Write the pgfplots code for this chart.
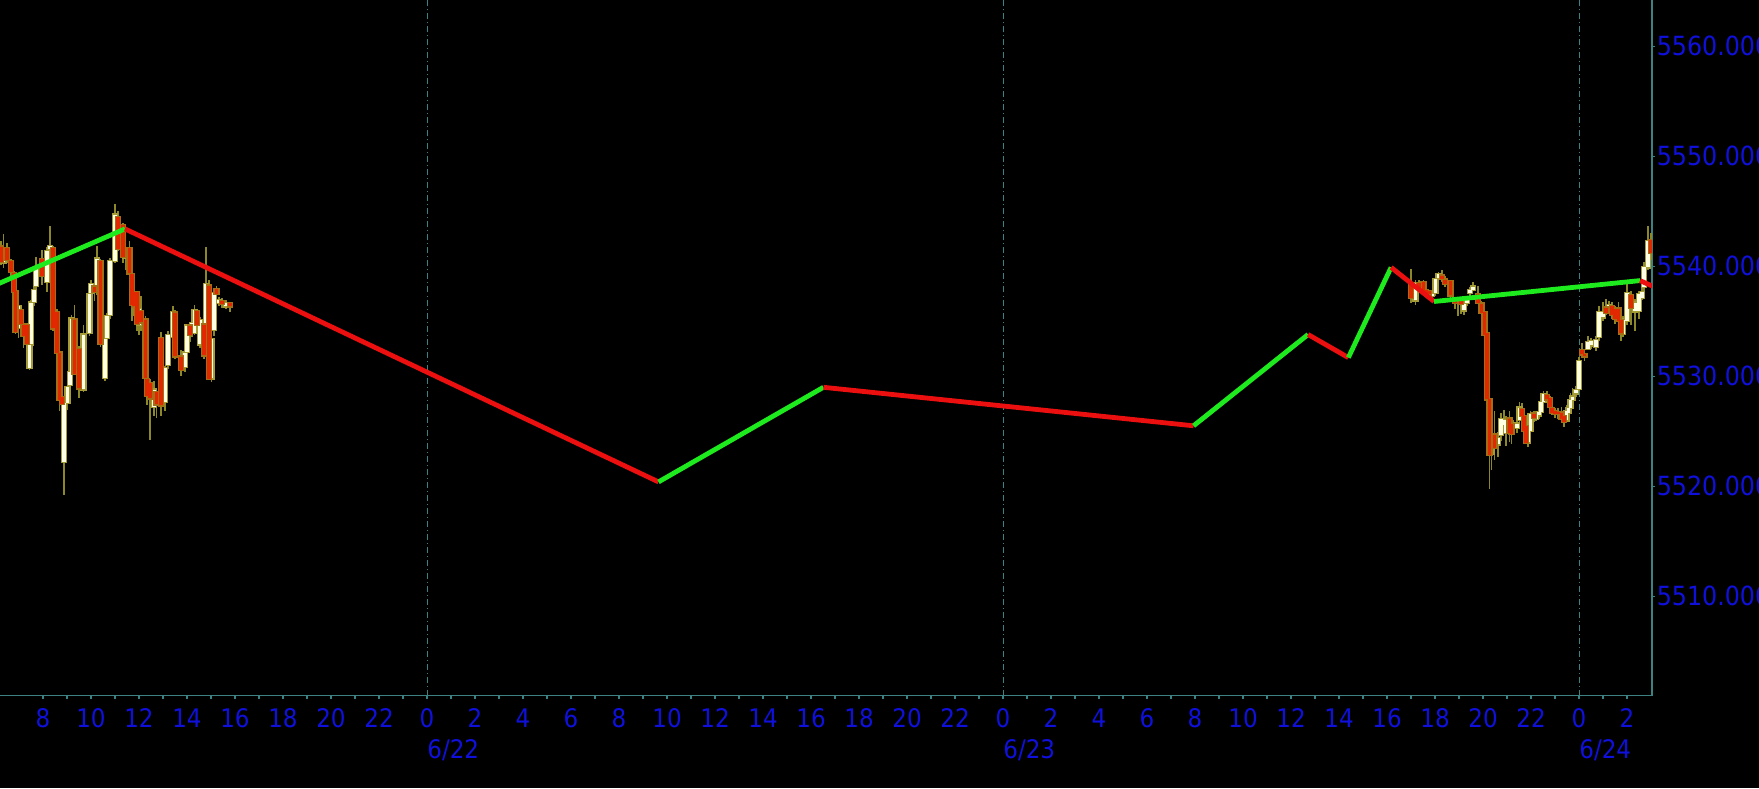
\documentclass[border=0pt]{standalone}
\usepackage{fontspec}
\setmainfont{DejaVu Sans}[FakeStretch=0.9]
\usepackage{pgfplots}
\usepackage{pgfplotstable}
\pgfplotsset{compat=1.18}

\definecolor{frame}{RGB}{60,130,130}
\definecolor{tickblue}{RGB}{16,16,220}
\definecolor{zzgreen}{RGB}{30,235,30}
\definecolor{zzred}{RGB}{235,15,15}
\definecolor{upfill}{RGB}{255,255,230}
\definecolor{upedge}{RGB}{165,155,55}
\definecolor{dnfill}{RGB}{225,40,0}
\definecolor{dnedge}{RGB}{165,110,20}
\definecolor{wick}{RGB}{140,135,40}

% hours counted from 6/21 0:00, prices
\pgfplotstableread{
t o h l c
6.354 5540.3 5543.0 5539.9 5541.7
6.979 5534.4 5536.8 5533.6 5536.5
7.438 5530.8 5533.3 5530.6 5533.0
7.500 5533.0 5537.1 5532.8 5536.9
7.625 5536.8 5538.3 5536.5 5538.0
7.708 5538.3 5541.0 5537.7 5540.1
8.167 5538.6 5541.9 5537.8 5541.5
8.292 5541.5 5543.8 5541.3 5541.9
8.875 5522.2 5527.8 5519.3 5527.6
9.021 5527.6 5529.7 5526.9 5529.2
9.125 5529.2 5531.0 5528.8 5530.4
9.188 5530.4 5535.6 5530.1 5535.4
9.688 5528.9 5534.7 5528.6 5534.0
9.938 5534.0 5537.8 5533.8 5537.6
10.000 5537.6 5538.8 5537.3 5538.5
10.250 5537.7 5541.9 5537.4 5540.8
10.583 5529.9 5533.8 5529.7 5533.5
10.667 5533.5 5535.8 5533.3 5535.6
10.792 5535.6 5540.8 5535.3 5540.6
11.000 5540.6 5545.8 5540.4 5544.9
11.438 5540.8 5542.4 5539.7 5541.8
12.000 5534.8 5536.9 5533.8 5536.3
12.625 5527.2 5529.7 5526.5 5528.9
13.083 5527.6 5531.0 5526.9 5530.8
13.208 5531.0 5534.2 5530.8 5533.8
13.417 5533.6 5536.5 5533.3 5536.0
13.917 5530.8 5532.6 5530.4 5532.2
14.000 5532.2 5534.9 5531.9 5534.7
14.208 5533.9 5535.3 5533.7 5534.9
14.313 5534.0 5536.5 5533.8 5536.2
14.542 5533.0 5535.6 5532.8 5535.3
14.792 5532.2 5541.8 5531.9 5538.5
15.021 5529.9 5533.8 5529.5 5533.6
15.125 5534.2 5537.8 5533.8 5537.6
15.333 5536.7 5537.3 5536.4 5537.1
15.625 5536.4 5536.9 5536.1 5536.8
65.188 5536.9 5538.8 5536.5 5538.6
65.438 5538.1 5538.7 5537.8 5538.5
65.875 5537.3 5537.8 5537.0 5537.6
66.021 5537.6 5539.2 5537.4 5539.0
66.146 5538.9 5539.6 5538.8 5539.4
66.958 5536.7 5537.2 5535.6 5537.0
67.208 5536.0 5536.9 5535.6 5536.7
67.333 5536.7 5537.3 5536.4 5537.1
67.458 5537.6 5538.2 5537.3 5538.0
67.583 5537.9 5538.6 5537.8 5538.3
68.354 5523.0 5524.7 5521.7 5524.0
68.625 5523.8 5525.1 5522.8 5524.5
68.750 5524.7 5526.8 5524.2 5526.2
68.875 5525.6 5526.9 5525.1 5526.2
68.958 5524.8 5526.5 5523.8 5526.0
69.271 5525.4 5526.2 5525.1 5525.9
69.417 5525.3 5526.0 5524.9 5525.8
69.521 5526.0 5527.8 5525.6 5527.2
69.875 5524.0 5525.6 5523.6 5525.3
69.979 5525.1 5526.9 5524.8 5526.7
70.208 5526.2 5526.9 5526.0 5526.8
70.333 5526.5 5527.4 5526.2 5526.9
70.417 5526.7 5528.0 5526.5 5527.7
70.521 5527.7 5528.8 5527.4 5528.5
71.479 5526.0 5527.4 5525.8 5526.9
71.563 5526.7 5527.8 5526.4 5527.2
71.646 5527.2 5528.6 5526.9 5528.0
71.729 5527.9 5528.9 5527.7 5528.3
71.875 5528.5 5529.2 5528.2 5528.9
72.000 5528.9 5531.9 5528.8 5531.5
72.375 5532.6 5533.7 5532.4 5533.3
72.500 5532.8 5533.6 5532.6 5533.3
72.708 5532.7 5533.8 5532.4 5533.4
72.833 5533.6 5536.5 5533.3 5536.0
73.000 5535.4 5536.9 5535.1 5536.0
73.250 5536.0 5536.9 5535.8 5536.6
73.833 5533.9 5535.6 5533.7 5535.3
74.000 5535.1 5538.8 5534.8 5537.7
74.333 5536.0 5537.1 5534.2 5536.9
74.500 5536.0 5537.8 5535.3 5537.6
74.625 5537.2 5538.3 5536.9 5537.8
74.708 5538.0 5540.4 5537.8 5539.9
74.875 5539.9 5543.7 5539.7 5542.4
}\up

\pgfplotstableread{
t o h l c
6.250 5541.9 5542.4 5540.2 5540.4
6.500 5541.8 5542.2 5540.4 5540.6
6.667 5540.6 5540.8 5539.2 5539.5
6.792 5539.5 5539.7 5537.5 5537.7
6.854 5537.8 5538.0 5533.9 5534.0
7.083 5536.2 5536.3 5534.0 5534.9
7.188 5534.9 5535.1 5532.6 5533.8
7.333 5534.8 5534.9 5532.8 5533.0
7.958 5540.8 5541.5 5538.3 5539.2
8.417 5541.8 5541.9 5534.2 5534.4
8.583 5536.0 5536.2 5531.5 5532.2
8.688 5532.2 5532.4 5526.9 5527.8
8.792 5528.3 5528.8 5526.0 5527.6
9.313 5535.3 5536.5 5530.1 5530.3
9.500 5532.6 5532.8 5528.0 5528.9
10.146 5538.3 5538.6 5536.9 5537.7
10.396 5540.6 5540.8 5532.8 5533.0
11.125 5544.7 5545.1 5541.5 5541.7
11.333 5543.8 5544.0 5540.4 5540.8
11.604 5541.8 5542.4 5538.8 5539.4
11.708 5539.4 5539.7 5535.1 5536.5
11.792 5537.7 5538.0 5535.6 5536.3
11.917 5537.7 5537.8 5534.2 5534.7
12.083 5536.0 5537.4 5534.2 5534.9
12.271 5535.3 5535.6 5529.7 5529.9
12.333 5529.9 5530.4 5527.4 5528.3
12.458 5529.5 5529.8 5524.3 5528.0
12.729 5528.6 5528.8 5526.2 5527.4
12.917 5533.6 5534.2 5526.5 5527.4
13.500 5535.8 5536.0 5531.5 5531.7
13.750 5531.9 5532.4 5530.1 5530.6
14.125 5534.7 5535.1 5533.3 5533.8
14.417 5536.0 5536.2 5534.2 5534.7
14.708 5534.8 5535.1 5531.7 5531.9
14.917 5538.5 5538.8 5529.7 5529.9
15.229 5538.1 5538.4 5537.3 5537.6
15.458 5536.9 5537.1 5536.2 5536.5
15.792 5536.7 5536.9 5536.0 5536.3
65.000 5538.5 5539.8 5536.7 5537.2
65.333 5538.6 5538.9 5537.7 5538.0
65.521 5538.6 5538.8 5537.6 5537.8
65.625 5538.0 5538.3 5537.3 5537.6
65.750 5537.8 5538.0 5537.1 5537.4
66.292 5539.2 5539.7 5538.6 5538.8
66.417 5539.0 5539.2 5538.2 5538.5
66.646 5538.8 5538.9 5537.1 5537.4
66.833 5537.1 5537.3 5536.2 5536.7
67.083 5536.9 5537.1 5535.8 5536.5
67.792 5537.7 5538.3 5536.6 5536.8
67.938 5536.7 5536.9 5535.6 5535.8
68.063 5536.0 5536.2 5533.6 5533.8
68.167 5533.9 5534.2 5527.7 5527.8
68.271 5528.0 5528.3 5519.8 5522.8
68.479 5524.9 5526.9 5522.4 5523.6
69.104 5526.3 5526.8 5524.0 5524.9
69.188 5525.8 5526.0 5523.8 5524.8
69.625 5527.2 5527.6 5526.2 5526.5
69.708 5526.5 5526.8 5524.7 5525.1
69.792 5525.6 5526.0 5523.8 5524.0
70.125 5526.7 5526.9 5525.9 5526.2
70.667 5528.5 5528.7 5527.9 5528.0
70.792 5528.1 5528.3 5526.9 5527.2
70.875 5527.2 5527.4 5526.5 5526.7
71.000 5527.0 5527.3 5526.4 5526.7
71.125 5526.9 5527.2 5526.2 5526.7
71.271 5526.9 5527.2 5526.0 5526.2
71.375 5526.5 5526.7 5525.5 5525.9
72.125 5532.6 5533.1 5531.8 5532.1
72.229 5532.2 5532.6 5531.5 5531.9
73.125 5536.4 5537.1 5535.6 5535.8
73.375 5536.5 5536.9 5535.3 5535.6
73.500 5536.3 5536.5 5534.9 5535.3
73.646 5536.3 5536.8 5534.7 5535.1
73.750 5535.3 5535.6 5533.3 5534.0
74.167 5537.6 5537.8 5534.7 5536.3
75.000 5542.6 5543.1 5540.6 5541.3
}\down

\pgfplotsset{
  wickplot/.style={draw=none, forget plot,
    error bars/.cd, y dir=both, y explicit, error mark=none,
    error bar style={line width=0.6pt, color=wick}},
  bodyplot/.style 2 args={draw=none, forget plot,
    error bars/.cd, y dir=both, y explicit, error mark=none,
    error bar style={line width=#1, color=#2}},
}

\begin{document}
\begin{tikzpicture}
\fill[black] (0,-46.25pt) rectangle (879.5pt,347.75pt);
\begin{axis}[
  at={(0,0)}, anchor=south west,
  scale only axis, width=826pt, height=347.75pt,
  xmin=6.2083, xmax=75.042, ymin=5500.98, ymax=5564.21,
  enlargelimits=false,
  axis x line*=bottom, axis y line*=right,
  axis line style={frame, line width=0.6pt},
  tick align=outside, major tick length=1.5pt, minor tick length=1.5pt,
  tick style={frame, line width=0.6pt},
  xtick={8,10,...,74}, minor x tick num=1,
  xticklabels={8,10,12,14,16,18,20,22,0,2,4,6,8,10,12,14,16,18,20,22,0,2,4,6,8,10,12,14,16,18,20,22,0,2},
  xticklabel style={font=\fontsize{12.8}{15}\selectfont, text=tickblue, anchor=north, inner sep=0pt, yshift=-5pt},
  extra x ticks={24,48,72},
  extra x tick labels={6/22,6/23,6/24},
  extra x tick style={grid=major, xticklabel style={anchor=north west, yshift=-15.4pt}},
  major grid style={frame, line width=0.5pt, dash pattern=on 3pt off 1.5pt on 0.5pt off 1.5pt},
  ytick={5510,5520,...,5560},
  yticklabels={5510.000,5520.000,5530.000,5540.000,5550.000,5560.000},
  yticklabel style={font=\fontsize{13.2}{16}\selectfont, text=tickblue, anchor=west, inner sep=0pt, xshift=0.7pt},
]
% wicks
\addplot[wickplot] table[x=t, y expr={(\thisrow{h}+\thisrow{l})/2}, y error expr={(\thisrow{h}-\thisrow{l})/2}] {\up};
\addplot[wickplot] table[x=t, y expr={(\thisrow{h}+\thisrow{l})/2}, y error expr={(\thisrow{h}-\thisrow{l})/2}] {\down};
% bodies: edge, then fill
\addplot[bodyplot={3.2pt}{upedge}] table[x=t, y expr={(\thisrow{o}+\thisrow{c})/2}, y error expr={abs(\thisrow{c}-\thisrow{o})/2+0.06}] {\up};
\addplot[bodyplot={1.8pt}{upfill}] table[x=t, y expr={(\thisrow{o}+\thisrow{c})/2}, y error expr={max(abs(\thisrow{c}-\thisrow{o})/2-0.05,0)}] {\up};
\addplot[bodyplot={3.2pt}{dnedge}] table[x=t, y expr={(\thisrow{o}+\thisrow{c})/2}, y error expr={abs(\thisrow{c}-\thisrow{o})/2+0.06}] {\down};
\addplot[bodyplot={1.8pt}{dnfill}] table[x=t, y expr={(\thisrow{o}+\thisrow{c})/2}, y error expr={max(abs(\thisrow{c}-\thisrow{o})/2-0.05,0)}] {\down};
% zigzag
\addplot[zzgreen, line width=2.4pt] coordinates {(4.958,5537.3) (11.417,5543.4)};
\addplot[zzred, line width=2.4pt] coordinates {(11.417,5543.4) (33.646,5520.4)};
\addplot[zzgreen, line width=2.4pt] coordinates {(33.646,5520.4) (40.517,5529.0)};
\addplot[zzred, line width=2.4pt] coordinates {(40.517,5529.0) (55.94,5525.5)};
\addplot[zzgreen, line width=2.4pt] coordinates {(55.94,5525.5) (60.71,5533.8)};
\addplot[zzred, line width=2.4pt] coordinates {(60.71,5533.8) (62.39,5531.7)};
\addplot[zzgreen, line width=2.4pt] coordinates {(62.39,5531.7) (64.17,5539.9)};
\addplot[zzred, line width=2.4pt] coordinates {(64.17,5539.9) (65.96,5536.8)};
\addplot[zzgreen, line width=2.4pt] coordinates {(65.96,5536.8) (74.54,5538.7)};
\addplot[zzred, line width=2.4pt] coordinates {(74.54,5538.7) (75.79,5537.5)};
\end{axis}
\pgfresetboundingbox
\path[use as bounding box] (0,-46.25pt) rectangle (879.5pt,347.75pt);
\end{tikzpicture}
\end{document}
